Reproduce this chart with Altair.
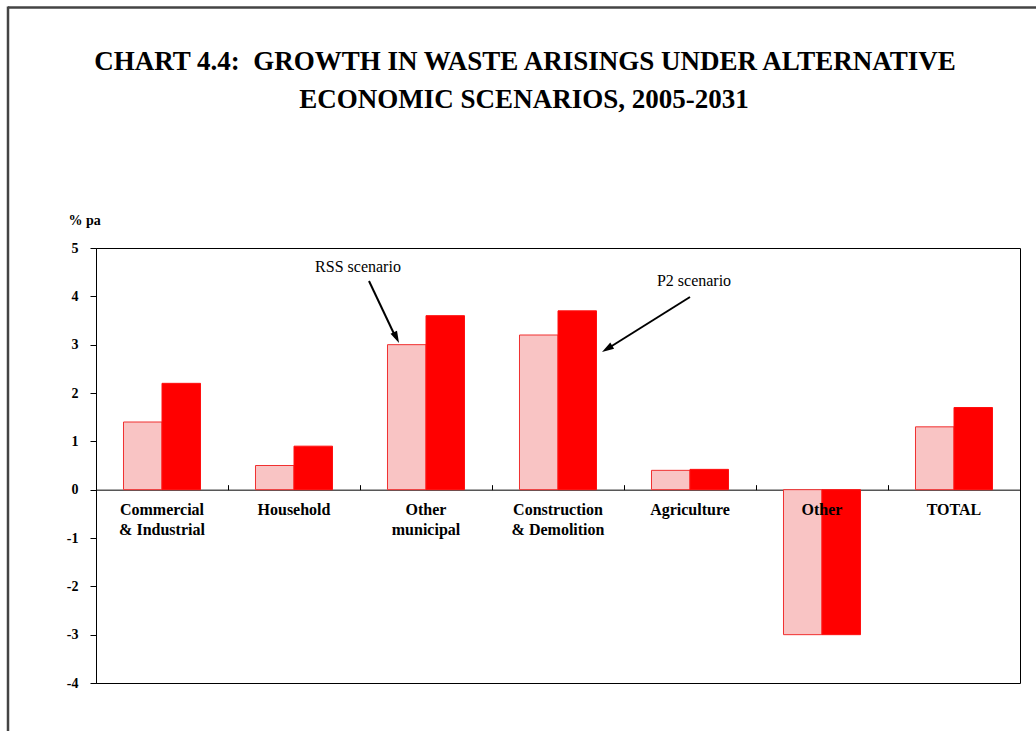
import altair as alt
import pandas as pd

categories = ["Commercial & Industrial", "Household", "Other municipal",
              "Construction & Demolition", "Agriculture", "Other", "TOTAL"]
axis_labels = ["Commercial\n& Industrial", "Household", "Other\nmunicipal",
               "Construction\n& Demolition", "Agriculture", "Other", "TOTAL"]
scenarios = ["RSS scenario", "P2 scenario"]
rss_values = [1.4, 0.5, 3.0, 3.2, 0.4, -3.0, 1.3]
p2_values = [2.2, 0.9, 3.6, 3.7, 0.42, -3.0, 1.7]
y_ticks = [-4, -3, -2, -1, 0, 1, 2, 3, 4, 5]
title_lines = ["CHART 4.4: \u00a0GROWTH IN WASTE ARISINGS UNDER ALTERNATIVE",
               "ECONOMIC SCENARIOS, 2005-2031"]

rows = []
for c, r, p in zip(categories, rss_values, p2_values):
    rows.append({"category": c, "scenario": scenarios[0], "value": r})
    rows.append({"category": c, "scenario": scenarios[1], "value": p})
df = pd.DataFrame(rows)
lab_df = pd.DataFrame({"category": categories, "label": axis_labels})

W, H = 924, 435
YMIN, YMAX = -4, 5
zero_pos = H * (YMAX - 0) / (YMAX - YMIN)
SERIF = "Liberation Serif"

x_enc = alt.X("category:N", sort=categories,
              scale=alt.Scale(paddingInner=0, paddingOuter=0),
              axis=alt.Axis(orient="top", offset=-zero_pos, labels=False, title=None,
                            bandPosition=0, tickSize=5, tickColor="black",
                            domainColor="black", grid=False))
y_enc = alt.Y("value:Q", scale=alt.Scale(domain=[YMIN, YMAX], nice=False, zero=False),
              axis=alt.Axis(values=y_ticks, title="% pa", titleAngle=0, titleAlign="left",
                            titleBaseline="alphabetic", titleX=-28, titleY=-24,
                            titleFont=SERIF, titleFontSize=14, titleFontWeight="bold",
                            titleColor="black", labelExpr="'' + datum.value",
                            labelFont=SERIF, labelFontSize=14, labelFontWeight="bold",
                            labelColor="black", labelPadding=12, tickSize=6,
                            tickColor="black", domainColor="black", grid=False))

bars = alt.Chart(df).mark_bar(strokeWidth=1).encode(
    x=x_enc,
    xOffset=alt.XOffset("scenario:N", sort=scenarios,
                        scale=alt.Scale(paddingOuter=0.714, paddingInner=0)),
    y=y_enc,
    fill=alt.Fill("scenario:N", sort=scenarios,
                  scale=alt.Scale(domain=scenarios, range=["#F9C4C4", "#FF0000"]),
                  legend=None),
    stroke=alt.Stroke("scenario:N", sort=scenarios,
                      scale=alt.Scale(domain=scenarios, range=["#F03030", "#FF1010"]),
                      legend=None),
)

labels = alt.Chart(lab_df).mark_text(
    font=SERIF, fontSize=16, fontWeight="bold", baseline="top", align="center",
    dy=12, lineBreak="\n", lineHeight=20, color="black"
).encode(x=x_enc, y=alt.datum(0), text="label:N")

one = alt.Data(values=[{}])
title_marks = alt.layer(
    alt.Chart(one).mark_text(font=SERIF, fontSize=27, fontWeight="bold", align="center",
                             baseline="alphabetic", color="black", text=title_lines[0]).encode(
        x=alt.value(429), y=alt.value(-178)),
    alt.Chart(one).mark_text(font=SERIF, fontSize=27, fontWeight="bold", align="center",
                             baseline="alphabetic", color="black", text=title_lines[1]).encode(
        x=alt.value(428), y=alt.value(-140)),
)
ann_text = alt.layer(
    alt.Chart(one).mark_text(font=SERIF, fontSize=16, align="center", baseline="alphabetic",
                             color="black", text="RSS scenario").encode(
        x=alt.value(262), y=alt.value(24)),
    alt.Chart(one).mark_text(font=SERIF, fontSize=16, align="center", baseline="alphabetic",
                             color="black", text="P2 scenario").encode(
        x=alt.value(598), y=alt.value(38)),
)
arrows = alt.layer(
    alt.Chart(one).mark_rule(color="black", strokeWidth=2).encode(
        x=alt.value(273), y=alt.value(33), x2=alt.value(300), y2=alt.value(90)),
    alt.Chart(one).mark_point(shape="M0,-1L0.6,1L-0.6,1Z", filled=True, color="black",
                              opacity=1, size=144).encode(
        x=alt.value(300.4), y=alt.value(89.6), angle=alt.value(154)),
    alt.Chart(one).mark_rule(color="black", strokeWidth=2).encode(
        x=alt.value(594), y=alt.value(49), x2=alt.value(511), y2=alt.value(101)),
    alt.Chart(one).mark_point(shape="M0,-1L0.6,1L-0.6,1Z", filled=True, color="black",
                              opacity=1, size=144).encode(
        x=alt.value(511.1), y=alt.value(100.8), angle=alt.value(238)),
)
frame = alt.layer(
    alt.Chart(one).mark_rule(color="#444444", strokeWidth=2.5).encode(
        x=alt.value(-88), x2=alt.value(960), y=alt.value(-240.5)),
    alt.Chart(one).mark_rule(color="#444444", strokeWidth=2.5).encode(
        x=alt.value(-88), y=alt.value(-241.5), y2=alt.value(500)),
)

chart = alt.layer(bars, labels, title_marks, ann_text, arrows, frame).properties(
    width=W, height=H,
    autosize=alt.AutoSizeParams(type="none"),
    padding={"left": 96, "top": 248, "right": 16, "bottom": 48},
    background="white",
).configure_view(stroke="black", strokeWidth=1)

chart.save("out.html", embed_options={"renderer": "svg", "actions": False})
